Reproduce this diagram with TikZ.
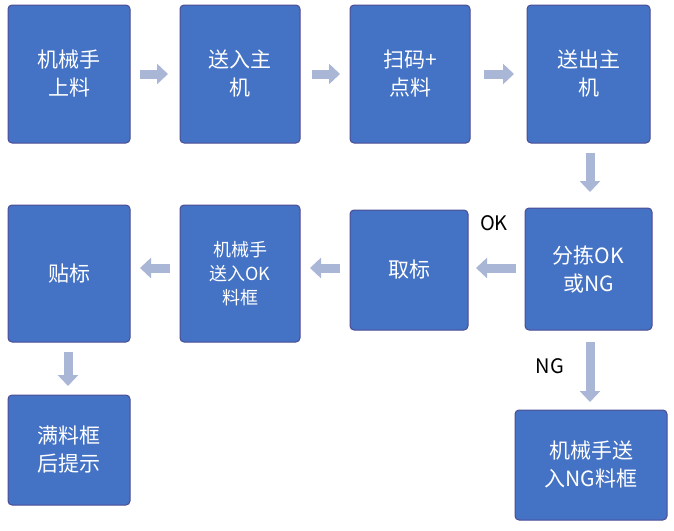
\documentclass[tikz,border=0pt]{standalone}
\usepackage{fontspec}
\newfontfamily\cjk{Noto Sans CJK SC}
\usetikzlibrary{arrows.meta}
\begin{document}
\begin{tikzpicture}[x=1pt,y=-1pt,
  bx/.style={draw=blue!40!black!70,line width=1pt,fill={rgb,255:red,68;green,114;blue,196},rounded corners=4pt,text=white,font=\cjk\fontsize{21}{28}\selectfont,align=center,inner sep=0},
  ba/.style={line width=9pt,draw={rgb,255:red,170;green,182;blue,214},-{Triangle[width=20pt,length=11pt]}},
  lb/.style={font=\cjk\fontsize{20}{24}\selectfont}]
\useasboundingbox (0,0) rectangle (674,530);
\path[bx] (8,5) rectangle (130,143) node[midway] (a) {机械手\\上料};
\path[bx] (180,5) rectangle (300,143) node[midway] (b) {送入主\\机};
\path[bx] (350,5) rectangle (470,143) node[midway] (c) {扫码+\\点料};
\path[bx] (527,5) rectangle (650,143) node[midway] (d) {送出主\\机};
\path[bx] (525,208) rectangle (652,330) node[midway] (e) {分拣OK\\或NG};
\path[bx] (350,210) rectangle (468,330) node[midway] (f) {取标};
\path[bx,font=\cjk\fontsize{18}{24}\selectfont] (180,205) rectangle (300,342) node[midway] (g) {机械手\\送入OK\\料框};
\path[bx] (8,205) rectangle (130,342) node[midway] (h) {贴标};
\path[bx] (8,395) rectangle (130,505) node[midway] (i) {满料框\\后提示};
\path[bx] (515,410) rectangle (667,520) node[midway] (j) {机械手送\\入NG料框};
\draw[ba] (140,74) -- (168,74);
\draw[ba] (312,74) -- (340,74);
\draw[ba] (484,74) -- (514,74);
\draw[ba] (590,153) -- (590,192);
\draw[ba] (516,268) -- (476,268);
\draw[ba] (340,268) -- (310,268);
\draw[ba] (170,268) -- (140,268);
\draw[ba] (68,352) -- (68,386);
\draw[ba] (590,342) -- (590,402);
\node[lb] (ok) at (494,223) {OK};
\node[lb] (ng) at (550,366) {NG};
\end{tikzpicture}
\end{document}
